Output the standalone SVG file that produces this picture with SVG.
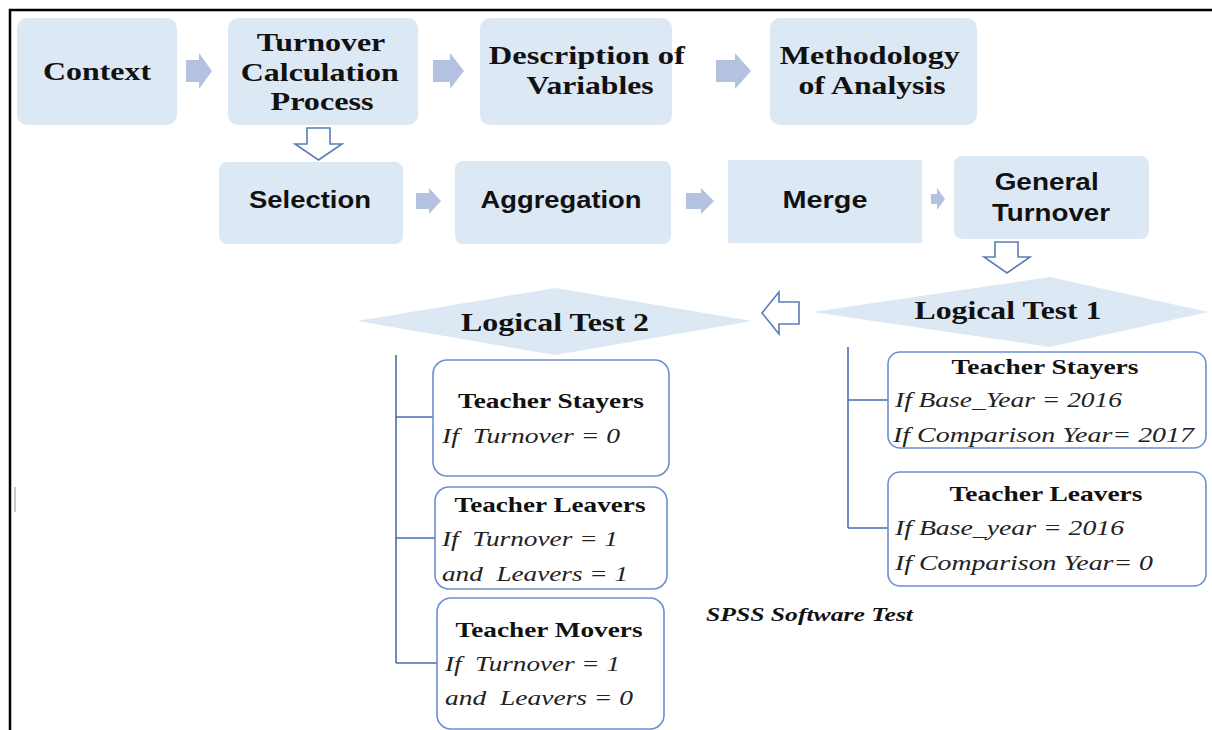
<svg xmlns="http://www.w3.org/2000/svg" width="1212" height="730" viewBox="0 0 1212 730">
<style>
.box{fill:#dde8f5}
.chev{fill:#b4c1e0}
.hollow{fill:#ffffff;stroke:#5a7db5;stroke-width:1.6}
.dia{fill:#dde8f5}
.tb{fill:#ffffff;stroke:#6b8fd0;stroke-width:1.6}
.ln{fill:none;stroke:#4a6db0;stroke-width:1.6}
.ser{font-family:"Liberation Serif",serif;font-weight:bold;fill:#111}
.san{font-family:"Liberation Sans",sans-serif;font-weight:bold;fill:#111}
.it{font-family:"Liberation Serif",serif;font-style:italic;fill:#222}
</style>
<rect width="1212" height="730" fill="#ffffff"/>
<path d="M10 730 V10 H1212" fill="none" stroke="#000" stroke-width="2.5"/>
<rect x="14" y="487" width="2" height="25" fill="#c8c8c8"/>

<g id="connectors">
  <path class="chev" d="M186 60 H199 V53 L212 71 L199 89 V82 H186 Z"/>
  <path class="chev" d="M433 60 H450 V53 L464 71 L450 89 V82 H433 Z"/>
  <path class="chev" d="M716 60 H735 V53 L751 71 L735 89 V82 H716 Z"/>
  <path class="chev" d="M416 193 H429 V188 L441 201 L429 214 V209 H416 Z"/>
  <path class="chev" d="M686 193 H701 V188 L714 201 L701 214 V209 H686 Z"/>
  <path class="chev" d="M931 194 H937 V188 L945 199 L937 210 V204 H931 Z"/>
  <path class="hollow" d="M307 128 H330 V144 H342 L318.5 160 L295 144 H307 Z"/>
  <path class="hollow" d="M995 242 H1018 V257 H1030 L1007 273 L984 257 H995 Z"/>
  <path class="hollow" d="M799 302 H779 V292 L762 313 L779 334 V324 H799 Z"/>
  <path class="ln" d="M396 355 V663 M396 417 H433 M396 538 H435 M396 663 H437"/>
  <path class="ln" d="M848 347 V528 M848 400 H888 M848 528 H888"/>
</g>

<g id="context"><rect class="box" x="17" y="18" width="160" height="107" rx="10"/>
<text class="ser" x="97" y="80" font-size="26" text-anchor="middle" textLength="108" lengthAdjust="spacingAndGlyphs">Context</text></g>

<g id="turnover-calc"><rect class="box" x="228" y="18" width="190" height="107" rx="10"/>
<text class="ser" font-size="26" text-anchor="middle">
<tspan x="324" y="51" textLength="128" lengthAdjust="spacingAndGlyphs">Turnover</tspan>
<tspan x="323" y="81" textLength="158" lengthAdjust="spacingAndGlyphs">Calculation</tspan>
<tspan x="322" y="110" textLength="103" lengthAdjust="spacingAndGlyphs">Process</tspan></text></g>

<g id="description"><rect class="box" x="480" y="18" width="192" height="107" rx="10"/>
<text class="ser" font-size="26" text-anchor="middle">
<tspan x="590" y="64" textLength="196" lengthAdjust="spacingAndGlyphs">Description of</tspan>
<tspan x="590" y="94" textLength="127" lengthAdjust="spacingAndGlyphs">Variables</tspan></text></g>

<g id="methodology"><rect class="box" x="770" y="18" width="207" height="107" rx="10"/>
<text class="ser" font-size="26" text-anchor="middle">
<tspan x="873" y="64" textLength="180" lengthAdjust="spacingAndGlyphs">Methodology</tspan>
<tspan x="872" y="94" textLength="147" lengthAdjust="spacingAndGlyphs">of Analysis</tspan></text></g>

<g id="selection"><rect class="box" x="219" y="162" width="184" height="82" rx="8"/>
<text class="san" x="310" y="208" font-size="24" text-anchor="middle" textLength="122" lengthAdjust="spacingAndGlyphs">Selection</text></g>

<g id="aggregation"><rect class="box" x="455" y="161" width="216" height="83" rx="8"/>
<text class="san" x="561" y="208" font-size="24" text-anchor="middle" textLength="161" lengthAdjust="spacingAndGlyphs">Aggregation</text></g>

<g id="merge"><rect class="box" x="728" y="160" width="194" height="83"/>
<text class="san" x="825" y="208" font-size="24" text-anchor="middle" textLength="85" lengthAdjust="spacingAndGlyphs">Merge</text></g>

<g id="general-turnover"><rect class="box" x="954" y="156" width="195" height="83" rx="8"/>
<text class="san" font-size="24" text-anchor="middle">
<tspan x="1050" y="190" textLength="104" lengthAdjust="spacingAndGlyphs">General</tspan>
<tspan x="1051" y="221" textLength="118" lengthAdjust="spacingAndGlyphs">Turnover</tspan></text></g>

<g id="logical-test-1"><path class="dia" d="M812 312 L1050 277 L1208 312 L1050 347 Z"/>
<text class="ser" x="1008" y="319" font-size="26" text-anchor="middle" textLength="187" lengthAdjust="spacingAndGlyphs">Logical Test 1</text></g>

<g id="logical-test-2"><path class="dia" d="M357 321 L555 288 L752 321 L555 355 Z"/>
<text class="ser" x="555" y="331" font-size="26" text-anchor="middle" textLength="188" lengthAdjust="spacingAndGlyphs">Logical Test 2</text></g>

<g id="lt2-stayers"><rect class="tb" x="433" y="360" width="236" height="116" rx="14"/>
<text class="ser" x="551" y="408" font-size="22" text-anchor="middle" textLength="186" lengthAdjust="spacingAndGlyphs">Teacher Stayers</text>
<text class="it" x="442" y="443" font-size="22" textLength="178" lengthAdjust="spacingAndGlyphs" xml:space="preserve">If  Turnover = 0</text></g>

<g id="lt2-leavers"><rect class="tb" x="435" y="487" width="232" height="102" rx="14"/>
<text class="ser" x="550" y="512" font-size="22" text-anchor="middle" textLength="191" lengthAdjust="spacingAndGlyphs">Teacher Leavers</text>
<text class="it" x="442" y="546" font-size="22" textLength="176" lengthAdjust="spacingAndGlyphs" xml:space="preserve">If  Turnover = 1</text>
<text class="it" x="442" y="581" font-size="22" textLength="186" lengthAdjust="spacingAndGlyphs" xml:space="preserve">and  Leavers = 1</text></g>

<g id="lt2-movers"><rect class="tb" x="437" y="598" width="227" height="131" rx="14"/>
<text class="ser" x="549" y="637" font-size="22" text-anchor="middle" textLength="187" lengthAdjust="spacingAndGlyphs">Teacher Movers</text>
<text class="it" x="445" y="671" font-size="22" textLength="175" lengthAdjust="spacingAndGlyphs" xml:space="preserve">If  Turnover = 1</text>
<text class="it" x="445" y="705" font-size="22" textLength="188" lengthAdjust="spacingAndGlyphs" xml:space="preserve">and  Leavers = 0</text></g>

<g id="lt1-stayers"><rect class="tb" x="888" y="352" width="318" height="96" rx="12"/>
<text class="ser" x="1045" y="374" font-size="22" text-anchor="middle" textLength="187" lengthAdjust="spacingAndGlyphs">Teacher Stayers</text>
<text class="it" x="895" y="407" font-size="22" textLength="227" lengthAdjust="spacingAndGlyphs">If Base_Year = 2016</text>
<text class="it" x="893" y="442" font-size="22" textLength="301" lengthAdjust="spacingAndGlyphs">If Comparison Year= 2017</text></g>

<g id="lt1-leavers"><rect class="tb" x="888" y="472" width="318" height="114" rx="12"/>
<text class="ser" x="1046" y="501" font-size="22" text-anchor="middle" textLength="193" lengthAdjust="spacingAndGlyphs">Teacher Leavers</text>
<text class="it" x="895" y="535" font-size="22" textLength="229" lengthAdjust="spacingAndGlyphs">If Base_year = 2016</text>
<text class="it" x="895" y="570" font-size="22" textLength="258" lengthAdjust="spacingAndGlyphs">If Comparison Year= 0</text></g>

<g id="spss-label">
<text x="706" y="621" font-family="Liberation Serif, serif" font-weight="bold" font-style="italic" font-size="18" fill="#111" textLength="207" lengthAdjust="spacingAndGlyphs">SPSS Software Test</text></g>
</svg>
